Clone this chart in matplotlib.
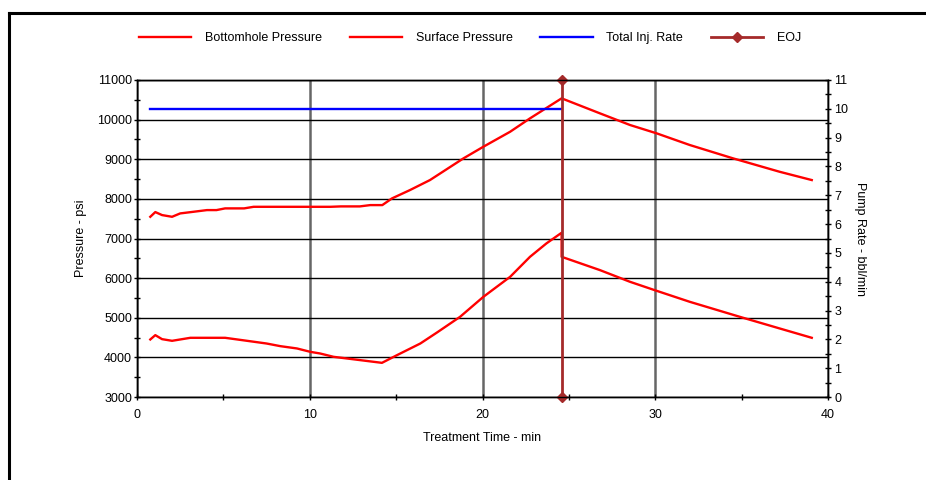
import matplotlib
matplotlib.use("Agg")
import matplotlib.pyplot as plt
from matplotlib.lines import Line2D
from matplotlib.ticker import MultipleLocator

plt.rcParams['font.family'] = ['Liberation Sans', 'DejaVu Sans']

# Bottomhole pressure (psi) vs time (min)
bh_time = [0.77, 1.06, 1.45, 2.03, 2.5, 3.28, 4.05, 4.6, 5.1, 6.2, 6.75, 11.2, 11.8, 12.9,
           13.5, 14.2, 14.76, 15.8, 16.96, 18.9, 20.05, 21.6, 22.75, 24.58,
           26.8, 28.54, 30.08, 32.0, 34.5, 37.2, 39.06]
bh_pressure = [7548, 7667, 7591, 7548, 7633, 7675, 7717, 7717, 7760, 7760, 7800, 7800, 7810, 7810,
               7843, 7843, 8012, 8222, 8475, 9023, 9316, 9694, 10032, 10537,
               10158, 9864, 9654, 9359, 9023, 8684, 8475]

# Surface pressure (psi)
sf_time = [0.77, 1.06, 1.45, 2.03, 3.09, 5.1, 6.37, 7.5, 8.3, 9.26, 10.03, 10.6, 11.38,
           14.18, 15.05, 16.4, 17.37, 18.7, 20.05, 21.6, 22.75, 23.7, 24.58, 24.58,
           26.8, 28.54, 30.08, 32.0, 34.9, 37.2, 39.06]
sf_pressure = [4452, 4561, 4460, 4418, 4494, 4494, 4418, 4350, 4283, 4225, 4140, 4098, 4014,
               3862, 4056, 4350, 4629, 5023, 5528, 6033, 6538, 6876, 7145, 6538,
               6202, 5907, 5680, 5402, 5023, 4730, 4494]

# Total injection rate (bbl/min)
rate_time = [0.77, 24.53]
rate_value = [10, 10]

# End of job marker
eoj_time = [24.6, 24.6]
eoj_rate = [0, 11]

fig = plt.figure(figsize=(9.26, 4.8), dpi=100)
ax = fig.add_axes([137/926, 1 - 397/480, (828 - 137)/926, (397 - 80)/480])
ax2 = ax.twinx()

red = '#FF0000'
blue = '#0000FF'
brown = '#A52A2A'

ax.plot(bh_time, bh_pressure, color=red, lw=1.7, zorder=3)
ax.plot(sf_time, sf_pressure, color=red, lw=1.7, zorder=3)
ax2.plot(rate_time, rate_value, color=blue, lw=1.7)
ax2.plot(eoj_time, eoj_rate, color=brown, lw=2.0, marker='D', markersize=5, clip_on=False)

ax.set_xlim(0, 40)
ax.set_ylim(3000, 11000)
ax2.set_ylim(0, 11)

ax.xaxis.set_major_locator(MultipleLocator(10))
ax.xaxis.set_minor_locator(MultipleLocator(5))
ax.yaxis.set_major_locator(MultipleLocator(1000))
ax.yaxis.set_minor_locator(MultipleLocator(500))
ax2.yaxis.set_major_locator(MultipleLocator(1))
ax2.yaxis.set_minor_locator(MultipleLocator(0.5))

for a in (ax, ax2):
    a.tick_params(which='both', direction='inout', length=5, width=1, colors='black',
                  labelsize=9, pad=1)
    for s in a.spines.values():
        s.set_linewidth(1.0)
        s.set_color('black')
ax.tick_params(axis='x', which='both', pad=6)
ax2.tick_params(axis='y', which='both', pad=2)

ax.grid(axis='y', which='major', color='black', lw=1.0)
ax.grid(axis='x', which='major', color='#666666', lw=1.8)
ax.set_axisbelow(True)

ax.set_xlabel('Treatment Time - min', fontsize=9, labelpad=8)
ax.set_ylabel('Pressure - psi', fontsize=9, labelpad=7)
ax2.set_ylabel('Pump Rate - bbl/min', fontsize=9, rotation=270, labelpad=13)

handles = [
    Line2D([], [], color=red, lw=1.7),
    Line2D([], [], color=red, lw=1.7),
    Line2D([], [], color=blue, lw=1.7),
    Line2D([], [], color=brown, lw=2.0, marker='D', markersize=5),
]
labels = ['Bottomhole Pressure', 'Surface Pressure', 'Total Inj. Rate', 'EOJ']
fig.legend(handles, labels, loc='center', bbox_to_anchor=(470/926, 1 - 38/480), ncol=4,
           frameon=False, fontsize=9, handlelength=4.2, handletextpad=1.1,
           columnspacing=2.2)

# outer frame (left and top visible)
fig.add_artist(Line2D([8.5/926, 8.5/926], [0, 1 - 13/480], transform=fig.transFigure,
                      color='black', lw=2.2))
fig.add_artist(Line2D([8.5/926, 1], [1 - 13/480, 1 - 13/480], transform=fig.transFigure,
                      color='black', lw=2.2))

fig.savefig('out.png', dpi=100, facecolor='white')
